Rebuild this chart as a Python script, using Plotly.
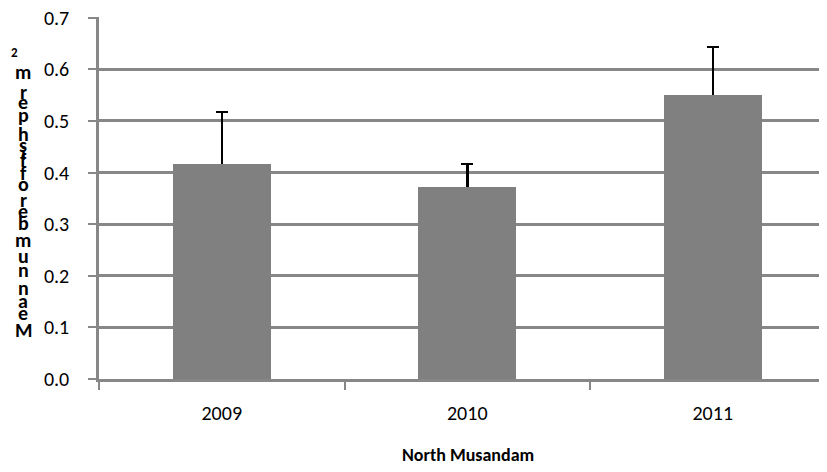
import plotly.graph_objects as go

# ---- data ----
years = ["2009", "2010", "2011"]
mean_density = [0.416, 0.373, 0.551]
error_plus = [0.101, 0.044, 0.092]
y_ticks = [0.0, 0.1, 0.2, 0.3, 0.4, 0.5, 0.6, 0.7]
y_tick_text = ["0.0", "0.1", "0.2", "0.3", "0.4", "0.5", "0.6", "0.7"]
x_title = "North Musandam"
y_title = "Mean number of fish per m"
y_title_sup = "2"

# ---- layout geometry (page pixels; page has an 8px body offset) ----
OFF = 8
WIDTH, HEIGHT = 827, 472
L, R, T, B = 99, 827, 17, 379          # plot area in page pixels
PW, PH = R - L, B - T
CAT_PX = 245.5  # pixel width of a category
Y_MAX = 0.7015


def px2x(px):
    return (px - L) / PW


def py2y(py):
    return (B - py) / PH


FONT = "Carlito, Calibri, Lato, 'Open Sans', sans-serif"
GRID = "#878787"
BAR = "#808080"

fig = go.Figure()
# bars with upward error bars (lower cap hidden inside the bar)
fig.add_trace(go.Bar(
    x=years, y=mean_density, width=0.4,
    marker=dict(color=BAR, line=dict(width=0)),
    error_y=dict(type="data", symmetric=False, array=error_plus,
                 arrayminus=[0.02] * len(error_plus),
                 color="black", thickness=2.5, width=6),
))
# same bars drawn again on top to cover the lower part of the whisker
fig.add_trace(go.Bar(
    x=years, y=mean_density, width=0.4,
    marker=dict(color=BAR, line=dict(width=0)),
))

annotations = []
# stacked y-axis title (glyphs upright, advanced along the vertical)
adv = {"M": .874, "e": .503, "a": .494, "n": .537, " ": .226, "u": .537,
       "m": .813, "b": .537, "r": .355, "o": .538, "f": .316, "i": .246,
       "s": .399, "h": .537, "p": .537}
centers = []
acc = 0.0
for ch in y_title:
    w = adv.get(ch, .5)
    centers.append(acc + w / 2)
    acc += w
c0, c1 = centers[0], centers[-1]
py_bottom, py_top = 330, 72
for ch, c in zip(y_title, centers):
    if ch == " ":
        continue
    py = py_bottom + (c - c0) / (c1 - c0) * (py_top - py_bottom)
    annotations.append(dict(
        text=ch, x=px2x(23), y=py2y(py), xref="paper", yref="paper",
        showarrow=False, xanchor="center", yanchor="middle",
        font=dict(family=FONT, size=20, color="black", weight="bold")))
annotations.append(dict(
    text=y_title_sup, x=px2x(14), y=py2y(53), xref="paper", yref="paper",
    showarrow=False, xanchor="center", yanchor="middle",
    font=dict(family=FONT, size=13, color="black", weight="bold")))
annotations.append(dict(
    text=x_title, x=px2x(468), y=py2y(455), xref="paper", yref="paper",
    showarrow=False, xanchor="center", yanchor="middle",
    font=dict(family=FONT, size=18, color="black", weight="bold")))

fig.update_layout(
    width=WIDTH, height=HEIGHT,
    margin=dict(l=L - OFF, r=WIDTH - (R - OFF), t=T - OFF,
                b=HEIGHT - (B - OFF), pad=0, autoexpand=False),
    paper_bgcolor="white", plot_bgcolor="white",
    showlegend=False, bargap=0, barmode="overlay",
    annotations=annotations,
    font=dict(family=FONT, size=20, color="black"),
    xaxis=dict(
        type="category", range=[-0.5, -0.5 + PW / CAT_PX], automargin=False,
        showgrid=False, showline=True, linecolor=GRID, linewidth=2.5,
        ticks="outside", tickson="boundaries", ticklen=8, tickwidth=2,
        tickcolor=GRID, ticklabelstandoff=14,
        tickfont=dict(family=FONT, size=20, color="black"),
    ),
    yaxis=dict(
        range=[0, Y_MAX], tickvals=y_ticks, ticktext=y_tick_text,
        automargin=False,
        showgrid=True, gridcolor=GRID, gridwidth=2.5,
        showline=True, linecolor=GRID, linewidth=2.5,
        ticks="outside", ticklen=8, tickwidth=2, tickcolor=GRID,
        ticklabelstandoff=15, zeroline=False,
        ticklabeloverflow="allow",
        tickfont=dict(family=FONT, size=20, color="black"),
    ),
)

fig.write_html("out.html")
